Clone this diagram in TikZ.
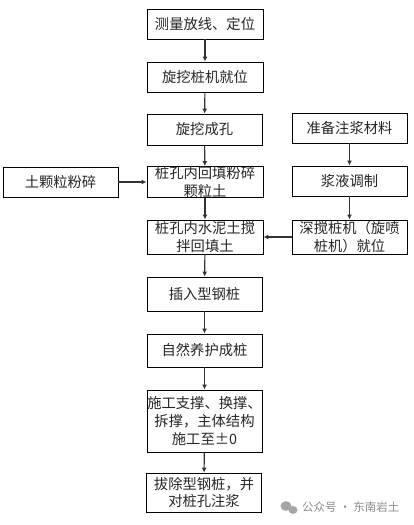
\documentclass[tikz,border=0pt]{standalone}
\usepackage{fontspec}
\setmainfont{Noto Sans CJK SC}
\usetikzlibrary{arrows.meta}
\tikzset{
  flowbox/.style={draw=black,line width=0.9pt,inner sep=0pt,align=center,font=\fontsize{14.3}{17.8}\selectfont,text=black!85,anchor=center},
  flowline/.style={draw=black!80,line width=1.1pt,-{Latex[length=5pt,width=5pt]}},
  mark text/.style={font=\fontsize{11.5}{14}\selectfont,text=black!45,anchor=west,inner sep=0pt}
}
\begin{document}
\begin{tikzpicture}[x=1pt,y=-1pt]
\useasboundingbox (0,0) rectangle (414,525);
\fill[white] (0,0) rectangle (414,525);
\node[flowbox,minimum width=116pt,minimum height=30pt] (a) at (205,24) {测量放线、定位};
\node[flowbox,minimum width=116pt,minimum height=30pt] (b) at (205,77) {旋挖桩机就位};
\node[flowbox,minimum width=115pt,minimum height=31pt] (c) at (204.5,129.5) {旋挖成孔};
\node[flowbox,minimum width=116pt,minimum height=30pt] (d) at (205,182) {桩孔内回填粉碎\\颗粒土};
\node[flowbox,minimum width=116pt,minimum height=34pt] (e) at (205,237) {桩孔内水泥土搅\\拌回填土};
\node[flowbox,minimum width=115pt,minimum height=34pt] (f) at (204.5,294) {插入型钢桩};
\node[flowbox,minimum width=115pt,minimum height=33pt] (g) at (204.5,350.5) {自然养护成桩};
\node[flowbox,minimum width=115pt,minimum height=62pt] (h) at (204.5,421) {施工支撑、换撑、\\拆撑，主体结构\\施工至±0};
\node[flowbox,minimum width=115pt,minimum height=39pt] (i) at (204,492.5) {拔除型钢桩，并\\对桩孔注浆};
\node[flowbox,minimum width=115pt,minimum height=30pt] (s) at (60.5,182) {土颗粒粉碎};
\node[flowbox,minimum width=115pt,minimum height=30pt] (p) at (349.5,128) {准备注浆材料};
\node[flowbox,minimum width=115pt,minimum height=30pt] (q) at (349.5,181) {浆液调制};
\node[flowbox,minimum width=115pt,minimum height=34pt] (r) at (349.5,237) {深搅桩机（旋喷\\桩机）就位};
\draw[flowline] (a) -- (b);
\draw[flowline] (b) -- (c);
\draw[flowline] (c) -- (d);
\draw[flowline] (d) -- (e);
\draw[flowline] (e) -- (f);
\draw[flowline] (f) -- (g);
\draw[flowline] (g) -- (h);
\draw[flowline] (h) -- (i);
\draw[flowline] (s) -- (d);
\draw[flowline] (p) -- (q);
\draw[flowline] (q) -- (r);
\draw[flowline] (r) -- (e);
\fill[black!35] (286,506) ellipse (5.5pt and 4.8pt);
\fill[black!35] (293,510) ellipse (4.5pt and 4pt);
\node[mark text] (w) at (302,507.5) {公众号 · 东南岩土};
\end{tikzpicture}
\end{document}
